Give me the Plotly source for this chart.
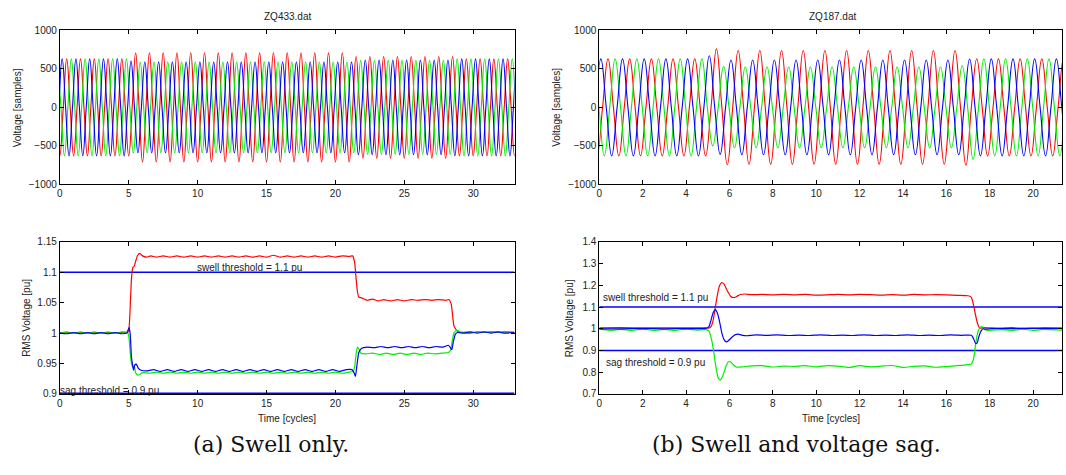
import plotly.graph_objects as go

# ---------------- DATA ----------------
# Waveforms: magnitudes of successive half-cycle extremes (alternating +/-)
# first extreme sits one cycle before the phase's first positive peak
L_OFFSETS = {"red": 0.5, "blue": 0.167, "green": 0.833}
L_RED_EXT = [630]*12 + [710]*32 + [660]*15 + [630]*10
L_BLUE_EXT = [630]*12 + [600] + [590]*32 + [615]*14 + [630]*11
L_GREEN_EXT = [630]*11 + [595] + [590]*32 + [610]*14 + [630]*11

R_OFFSETS = {"red": 0.4, "blue": 0.07, "green": 0.73}
R_RED_EXT = [630]*12 + [760] + [745] + [738]*21 + [750] + [632] + [630]*10
R_BLUE_EXT = [630]*12 + [670] + [610] + [615]*22 + [628] + [630]*10
R_GREEN_EXT = [630]*11 + [500] + [530] + [525]*21 + [540] + [675] + [630]*10

# RMS curves (x in cycles, y in pu)
L_RED_X = [0, 0.5, 1, 1.5, 2, 2.5, 3, 3.5, 4, 4.5, 4.9, 5.0, 5.1, 5.2, 5.3, 5.4, 5.5, 5.65, 5.8, 6.0, 6.3, 6.6,
           7.0, 7.5, 8, 8.5, 9, 9.5, 10, 10.5, 11, 11.5, 12, 12.5, 13, 13.5, 14, 14.5, 15, 15.5, 16, 16.5, 17,
           17.5, 18, 18.5, 19, 19.5, 20, 20.5, 21, 21.25, 21.4, 21.5, 21.6, 21.7, 21.9, 22.3, 22.7, 23.1, 23.5,
           24, 24.5, 25, 25.5, 26, 26.5, 27, 27.5, 28, 28.25, 28.4, 28.5, 28.6, 28.75, 28.9, 29.3, 29.8, 30.3,
           30.8, 31.3, 31.8, 32.3, 33]
L_RED_Y = [1.000, 1.001, 1.000, 1.001, 1.000, 1.001, 1.000, 1.001, 1.000, 1.001, 1.001, 1.004, 1.04, 1.09, 1.108,
           1.110, 1.118, 1.128, 1.131, 1.127, 1.125, 1.127, 1.125, 1.127, 1.125, 1.127, 1.125, 1.127, 1.125, 1.127,
           1.125, 1.127, 1.125, 1.127, 1.125, 1.127, 1.125, 1.127, 1.125, 1.128, 1.125, 1.127, 1.125, 1.127, 1.125,
           1.127, 1.125, 1.127, 1.125, 1.127, 1.126, 1.127, 1.115, 1.09, 1.068, 1.059, 1.058, 1.054, 1.056, 1.053,
           1.055, 1.053, 1.055, 1.053, 1.055, 1.054, 1.055, 1.054, 1.055, 1.054, 1.055, 1.048, 1.03, 1.012, 1.006,
           1.002, 1.001, 1.000, 1.002, 1.001, 1.002, 1.001, 1.002, 1.001]

L_BLUE_X = [0, 0.5, 1, 1.5, 2, 2.5, 3, 3.5, 4, 4.5, 4.85, 4.95, 5.02, 5.1, 5.2, 5.3, 5.35, 5.45, 5.55, 5.7, 5.9,
            6.3, 6.8, 7.3, 7.8, 8.3, 8.8, 9.3, 9.8, 10.3, 10.8, 11.3, 11.8, 12.3, 12.8, 13.3, 13.8, 14.3, 14.8,
            15.3, 15.8, 16.3, 16.8, 17.3, 17.8, 18.3, 18.8, 19.3, 19.8, 20.3, 20.8, 21.2, 21.35, 21.45, 21.55,
            21.7, 21.9, 22.3, 22.8, 23.3, 23.8, 24.3, 24.8, 25.3, 25.8, 26.3, 26.8, 27.3, 27.8, 28.2, 28.35, 28.45,
            28.55, 28.7, 28.85, 29.3, 29.8, 30.3, 30.8, 31.3, 31.8, 32.3, 33]
L_BLUE_Y = [1.000, 0.999, 1.001, 0.999, 1.001, 0.999, 1.001, 0.999, 1.001, 0.999, 1.000, 1.005, 1.009, 1.000,
            0.960, 0.945, 0.939, 0.948, 0.949, 0.942, 0.939, 0.938, 0.940, 0.937, 0.940, 0.937, 0.940, 0.937,
            0.940, 0.937, 0.940, 0.937, 0.940, 0.937, 0.940, 0.937, 0.940, 0.937, 0.940, 0.937, 0.940, 0.937,
            0.940, 0.937, 0.940, 0.937, 0.940, 0.937, 0.940, 0.937, 0.940, 0.940, 0.935, 0.929, 0.945, 0.968,
            0.975, 0.977, 0.976, 0.978, 0.976, 0.978, 0.976, 0.978, 0.976, 0.978, 0.976, 0.978, 0.977, 0.980,
            0.976, 0.973, 0.985, 0.998, 1.001, 1.000, 1.002, 1.000, 1.002, 1.000, 1.002, 1.000, 1.001]

L_GREEN_X = [0, 0.5, 1, 1.5, 2, 2.5, 3, 3.5, 4, 4.5, 4.9, 5.0, 5.1, 5.2, 5.3, 5.4, 5.5, 5.65, 5.8, 6.0, 6.5, 7,
             7.5, 8, 8.5, 9, 9.5, 10, 10.5, 11, 11.5, 12, 12.5, 13, 13.5, 14, 14.5, 15, 15.5, 16, 16.5, 17, 17.5,
             18, 18.5, 19, 19.5, 20, 20.5, 21, 21.3, 21.4, 21.5, 21.6, 21.7, 21.85, 22.2, 22.7, 23.2, 23.7, 24.2,
             24.7, 25.2, 25.7, 26.2, 26.7, 27.2, 27.7, 28.2, 28.35, 28.5, 28.6, 28.75, 28.9, 29.1, 29.5, 30, 30.5,
             31, 31.5, 32, 32.5, 33]
L_GREEN_Y = [1.000, 1.002, 1.000, 1.002, 1.000, 1.002, 1.000, 1.002, 1.000, 1.002, 1.001, 0.995, 0.970, 0.950,
             0.944, 0.946, 0.935, 0.931, 0.932, 0.935, 0.934, 0.936, 0.934, 0.936, 0.934, 0.936, 0.934, 0.936,
             0.934, 0.936, 0.934, 0.936, 0.934, 0.936, 0.934, 0.936, 0.934, 0.936, 0.934, 0.936, 0.934, 0.936,
             0.934, 0.936, 0.934, 0.936, 0.934, 0.936, 0.934, 0.936, 0.937, 0.945, 0.965, 0.977, 0.974, 0.967,
             0.966, 0.967, 0.965, 0.967, 0.965, 0.967, 0.965, 0.967, 0.965, 0.967, 0.966, 0.967, 0.968, 0.972,
             0.990, 1.000, 1.004, 1.004, 1.001, 1.002, 1.001, 1.002, 1.001, 1.002, 1.001, 1.002, 1.002]

R_RED_X = [0, 1, 2, 3, 4, 4.9, 5.05, 5.15, 5.25, 5.35, 5.45, 5.55, 5.65, 5.75, 5.9, 6.05, 6.2, 6.35, 6.5, 6.7, 7.0,
           7.5, 8, 8.5, 9, 9.5, 10, 10.5, 11, 11.5, 12, 12.5, 13, 13.5, 14, 14.5, 15, 15.5, 16, 16.5, 17, 17.15,
           17.25, 17.35, 17.45, 17.55, 17.7, 18, 18.5, 19, 19.5, 20, 20.5, 21.33]
R_RED_Y = [1.004, 1.005, 1.004, 1.004, 1.004, 1.004, 1.003, 1.010, 1.040, 1.100, 1.160, 1.200, 1.213, 1.205, 1.175,
           1.150, 1.143, 1.150, 1.158, 1.160, 1.157, 1.158, 1.156, 1.158, 1.156, 1.158, 1.155, 1.156, 1.158, 1.156,
           1.158, 1.157, 1.155, 1.157, 1.155, 1.158, 1.156, 1.157, 1.156, 1.154, 1.152, 1.145, 1.110, 1.060, 1.020,
           1.003, 1.005, 1.004, 1.003, 1.005, 1.002, 1.003, 1.004, 1.003]

R_BLUE_X = [0, 1, 2, 3, 4, 4.9, 5.05, 5.15, 5.25, 5.35, 5.45, 5.55, 5.65, 5.75, 5.85, 5.95, 6.1, 6.25, 6.4, 6.6,
            6.8, 7.2, 7.7, 8.2, 8.7, 9.2, 9.7, 10.2, 10.7, 11.2, 11.7, 12.2, 12.7, 13.2, 13.7, 14.2, 14.7, 15.2,
            15.7, 16.2, 16.7, 17.15, 17.25, 17.35, 17.42, 17.5, 17.6, 17.7, 17.8, 18.1, 19, 20, 21.33]
R_BLUE_Y = [1.000, 1.000, 1.001, 1.000, 1.001, 1.002, 1.010, 1.040, 1.075, 1.088, 1.070, 1.030, 0.980, 0.950,
            0.940, 0.945, 0.960, 0.972, 0.975, 0.970, 0.968, 0.972, 0.970, 0.972, 0.969, 0.971, 0.969, 0.972,
            0.969, 0.971, 0.969, 0.972, 0.969, 0.971, 0.969, 0.972, 0.969, 0.971, 0.969, 0.972, 0.970, 0.970,
            0.955, 0.932, 0.935, 0.965, 0.990, 1.000, 0.998, 1.001, 1.001, 1.002, 1.002]

R_GREEN_X = [0, 0.5, 1, 1.5, 2, 2.5, 3, 3.5, 4, 4.5, 4.9, 5.05, 5.15, 5.25, 5.35, 5.45, 5.5, 5.58, 5.7, 5.85,
             5.95, 6.05, 6.2, 6.35, 6.6, 7, 7.5, 8, 8.5, 9, 9.5, 10, 10.5, 11, 11.5, 12, 12.5, 13, 13.5, 14, 14.5,
             15, 15.5, 16, 16.5, 17.0, 17.15, 17.25, 17.35, 17.45, 17.55, 17.65, 17.75, 17.9, 18.5, 19, 19.5, 20,
             20.5, 21.33]
R_GREEN_Y = [0.998, 0.993, 0.997, 0.993, 0.998, 0.993, 0.997, 0.993, 0.998, 0.994, 0.996, 0.990, 0.960, 0.910,
             0.840, 0.785, 0.770, 0.765, 0.785, 0.830, 0.848, 0.848, 0.832, 0.823, 0.825, 0.829, 0.830, 0.824,
             0.828, 0.827, 0.830, 0.825, 0.830, 0.828, 0.822, 0.830, 0.825, 0.828, 0.831, 0.822, 0.827, 0.829,
             0.823, 0.826, 0.830, 0.835, 0.838, 0.860, 0.930, 0.985, 1.005, 1.010, 0.997, 0.993, 0.996, 0.993,
             0.998, 0.993, 0.997, 0.994]

SWELL = 1.1
SAG = 0.9
L_XMAX = 33
R_XMAX = 21.33
L_XTICKS = [0, 5, 10, 15, 20, 25, 30]
R_XTICKS = [0, 2, 4, 6, 8, 10, 12, 14, 16, 18, 20]
V_TICKS = [-1000, -500, 0, 500, 1000]
L_RMS_TICKS = [0.9, 0.95, 1.0, 1.05, 1.1, 1.15]
L_RMS_LABELS = ["0.9", "0.95", "1", "1.05", "1.1", "1.15"]
R_RMS_TICKS = [0.7, 0.8, 0.9, 1.0, 1.1, 1.2, 1.3, 1.4]
R_RMS_LABELS = ["0.7", "0.8", "0.9", "1", "1.1", "1.2", "1.3", "1.4"]

COLORS = {"red": "#ff0000", "green": "#00ee00", "blue": "#0000ff"}
W, H = 1066, 475


def wave(offset, ext):
    x0 = offset - 1.0
    xs, ys = [], []
    for j, a in enumerate(ext):
        xc = x0 + 0.5 * j
        xs.append(xc)
        ys.append(a if j % 2 == 0 else -a)
        if j < len(ext) - 1:
            xs.append(xc + 0.25)
            ys.append(0)
    return xs, ys


fig = go.Figure()

def add(x, y, color, xa, ya, width=1.2, smooth=1.0):
    fig.add_trace(go.Scatter(x=x, y=y, mode="lines", xaxis=xa, yaxis=ya, hoverinfo="skip",
                             line=dict(color=color, width=width, shape="spline", smoothing=smooth),
                             showlegend=False))

# top-left waveforms
for name, ext in [("red", L_RED_EXT), ("green", L_GREEN_EXT), ("blue", L_BLUE_EXT)]:
    xs, ys = wave(L_OFFSETS[name], ext)
    add(xs, ys, COLORS[name], "x", "y", width=1.1, smooth=1.3)
# top-right waveforms
for name, ext in [("red", R_RED_EXT), ("green", R_GREEN_EXT), ("blue", R_BLUE_EXT)]:
    xs, ys = wave(R_OFFSETS[name], ext)
    add(xs, ys, COLORS[name], "x2", "y2", width=1.1, smooth=1.3)

# bottom-left RMS
add([0, L_XMAX], [SWELL, SWELL], COLORS["blue"], "x3", "y3", width=1.5, smooth=0)
add([0, L_XMAX], [SAG, SAG], COLORS["blue"], "x3", "y3", width=3, smooth=0)
add(L_RED_X, L_RED_Y, COLORS["red"], "x3", "y3", smooth=0.5)
add(L_GREEN_X, L_GREEN_Y, COLORS["green"], "x3", "y3", smooth=0.5)
add(L_BLUE_X, L_BLUE_Y, COLORS["blue"], "x3", "y3", smooth=0.5)

# bottom-right RMS
add([0, R_XMAX], [SWELL, SWELL], COLORS["blue"], "x4", "y4", width=1.5, smooth=0)
add([0, R_XMAX], [SAG, SAG], COLORS["blue"], "x4", "y4", width=1.5, smooth=0)
add(R_RED_X, R_RED_Y, COLORS["red"], "x4", "y4", smooth=0.5)
add(R_GREEN_X, R_GREEN_Y, COLORS["green"], "x4", "y4", smooth=0.5)
add(R_BLUE_X, R_BLUE_Y, COLORS["blue"], "x4", "y4", smooth=0.5)

TICKFONT = dict(family="Liberation Sans, Arial, sans-serif", size=10, color="#222")

def axis(domain, rng, tickvals, ticktext=None, anchor=None):
    d = dict(domain=domain, range=rng, tickvals=tickvals, showline=True, linecolor="black", linewidth=1,
             mirror="ticks", ticks="inside", ticklen=4, tickcolor="black", showgrid=False, zeroline=False,
             tickfont=TICKFONT, anchor=anchor, fixedrange=True)
    if ticktext is not None:
        d["ticktext"] = ticktext
    return d

LX = [57 / W, 513 / W]
RX = [598 / W, 1062 / W]
TY = [1 - 183 / H, 1 - 25 / H]
BY = [1 - 398 / H, 1 - 242 / H]

fig.update_layout(
    width=W, height=H, margin=dict(l=0, r=0, t=0, b=0),
    paper_bgcolor="white", plot_bgcolor="white",
    xaxis=axis(LX, [0, L_XMAX], L_XTICKS, anchor="y"),
    yaxis=axis(TY, [-1000, 1000], V_TICKS, anchor="x"),
    xaxis2=axis(RX, [0, R_XMAX], R_XTICKS, anchor="y2"),
    yaxis2=axis(TY, [-1000, 1000], V_TICKS, anchor="x2"),
    xaxis3=axis(LX, [0, L_XMAX], L_XTICKS, anchor="y3"),
    yaxis3=axis(BY, [0.9, 1.15], L_RMS_TICKS, L_RMS_LABELS, anchor="x3"),
    xaxis4=axis(RX, [0, R_XMAX], R_XTICKS, anchor="y4"),
    yaxis4=axis(BY, [0.7, 1.4], R_RMS_TICKS, R_RMS_LABELS, anchor="x4"),
)

LBL = dict(family="Liberation Sans, Arial, sans-serif", size=10, color="#222")
CAP = dict(family="DejaVu Serif, serif", size=22, color="#111")

def px_ann(text, x, y, font, angle=0):
    fig.add_annotation(text=text, x=x / W, y=1 - y / H, xref="paper", yref="paper", showarrow=False,
                       font=font, textangle=angle, xanchor="center", yanchor="middle")

px_ann("ZQ433.dat", 285, 11, LBL)
px_ann("ZQ187.dat", 832, 11, LBL)
px_ann("Voltage [samples]", 14, 104, LBL, -90)
px_ann("Voltage [samples]", 555, 104, LBL, -90)
px_ann("RMS Voltage [pu]", 24, 320, LBL, -90)
px_ann("RMS Voltage [pu]", 569, 320, LBL, -90)
px_ann("Time [cycles]", 285, 423, LBL)
px_ann("Time [cycles]", 830, 423, LBL)
px_ann("(a) Swell only.", 269, 450, CAP)
px_ann("(b) Swell and voltage sag.", 796, 450, CAP)

def data_ann(text, x, y, xr, yr):
    fig.add_annotation(text=text, x=x, y=y, xref=xr, yref=yr, showarrow=False, font=LBL,
                       xanchor="center", yanchor="middle")

data_ann("swell threshold = 1.1 pu", 13.8, 1.1075, "x3", "y3")
data_ann("sag threshold = 0.9 pu", 3.6, 0.9055, "x3", "y3")
data_ann("swell threshold = 1.1 pu", 2.6, 1.146, "x4", "y4")
data_ann("sag threshold = 0.9 pu", 2.6, 0.847, "x4", "y4")

fig.write_html("out.html", config={"displayModeBar": False},
               post_script="document.body.style.margin='0';document.body.style.overflow='hidden';")
